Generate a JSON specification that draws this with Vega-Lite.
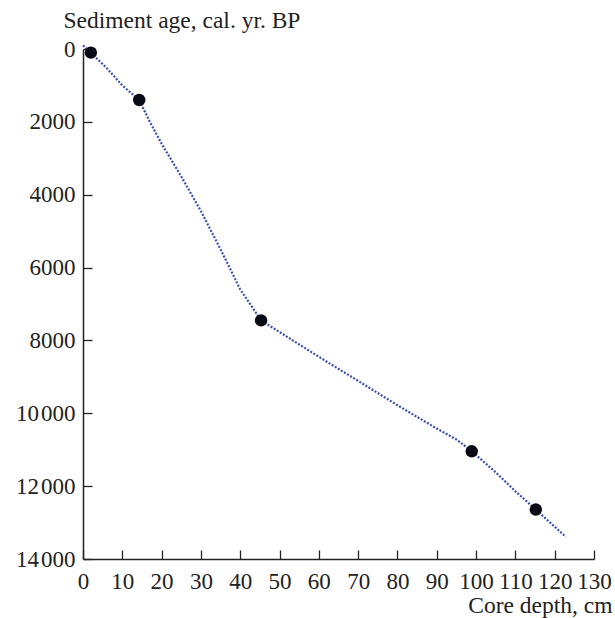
{
  "$schema": "https://vega.github.io/schema/vega-lite/v6.json",
  "width": 511,
  "height": 510,
  "autosize": {"type": "none"},
  "padding": {"left": 83, "top": 49, "right": 21, "bottom": 59},
  "background": "white",
  "config": {
    "view": {"stroke": null},
    "font": "Liberation Serif",
    "axis": {
      "grid": false,
      "domainColor": "#222",
      "domainWidth": 1.5,
      "tickColor": "#222",
      "tickWidth": 1.3,
      "labelFont": "Liberation Serif",
      "labelFontSize": 23,
      "labelColor": "#222",
      "titleFont": "Liberation Serif",
      "titleFontSize": 23.5,
      "titleFontWeight": "normal",
      "titleColor": "#222"
    }
  },
  "datasets": {
    "curve": [
      {"depth": 0, "age": -100},
      {"depth": 2, "age": 100},
      {"depth": 6, "age": 520},
      {"depth": 10, "age": 1000},
      {"depth": 14.3, "age": 1400},
      {"depth": 17, "age": 2000},
      {"depth": 20, "age": 2600},
      {"depth": 25, "age": 3500},
      {"depth": 30, "age": 4450},
      {"depth": 35, "age": 5500},
      {"depth": 40, "age": 6600},
      {"depth": 45.3, "age": 7450},
      {"depth": 60, "age": 8450},
      {"depth": 70, "age": 9110},
      {"depth": 80, "age": 9780},
      {"depth": 90, "age": 10420},
      {"depth": 95, "age": 10720},
      {"depth": 98.9, "age": 11043},
      {"depth": 105, "age": 11620},
      {"depth": 110, "age": 12140},
      {"depth": 115.2, "age": 12642},
      {"depth": 122.8, "age": 13390}
    ],
    "dates": [
      {"depth": 2, "age": 100},
      {"depth": 14.3, "age": 1400},
      {"depth": 45.3, "age": 7450},
      {"depth": 98.9, "age": 11043},
      {"depth": 115.2, "age": 12642}
    ]
  },
  "encoding": {
    "x": {
      "field": "depth",
      "type": "quantitative",
      "scale": {"domain": [0, 130], "nice": false, "zero": false},
      "axis": {
        "values": [0, 10, 20, 30, 40, 50, 60, 70, 80, 90, 100, 110, 120, 130],
        "tickSize": -9,
        "labelPadding": 20,
        "labelFlush": false,
        "labelOverlap": false,
        "title": "Core depth, cm",
        "titleAlign": "right",
        "titleAnchor": null,
        "titleX": 529,
        "titleY": 46,
        "titleBaseline": "middle"
      }
    },
    "y": {
      "field": "age",
      "type": "quantitative",
      "scale": {"domain": [0, 14000], "nice": false, "zero": false, "reverse": true},
      "axis": {
        "values": [0, 2000, 4000, 6000, 8000, 10000, 12000, 14000],
        "tickSize": -9,
        "labelPadding": 17,
        "labelFlush": false,
        "labelOverlap": false,
        "labelExpr": "datum.value >= 10000 ? replace(format(datum.value, ','), ',', '\u200a') : format(datum.value, 'd')",
        "title": "Sediment age, cal. yr. BP",
        "titleAngle": 0,
        "titleAlign": "left",
        "titleAnchor": null,
        "titleX": -20,
        "titleY": -29,
        "titleBaseline": "middle"
      }
    }
  },
  "layer": [
    {
      "data": {"name": "curve"},
      "mark": {"type": "line", "color": "#3b4fb3", "strokeWidth": 2.2, "strokeDash": [2, 1.6], "clip": false}
    },
    {
      "data": {"name": "dates"},
      "mark": {"type": "circle", "color": "#0a0a14", "opacity": 1, "size": 155}
    }
  ]
}
